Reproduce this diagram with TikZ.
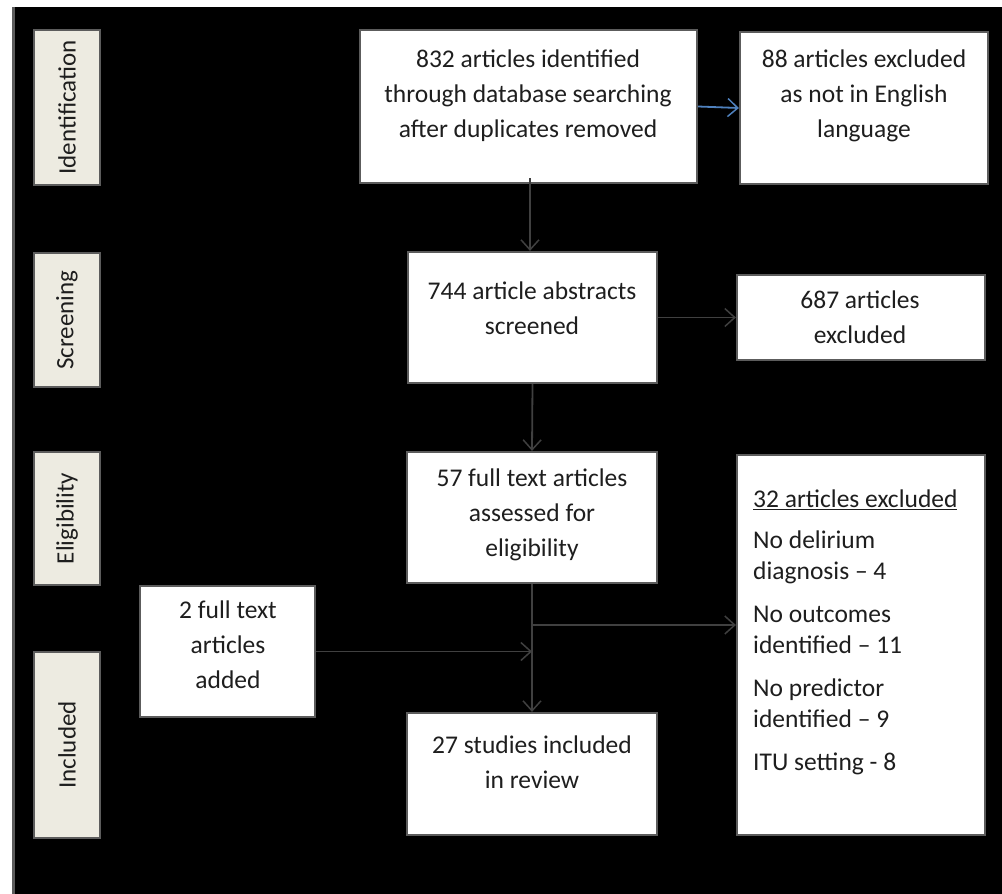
\documentclass[tikz,border=0pt]{standalone}
\usepackage{fontspec}
\setmainfont{Carlito}
\usetikzlibrary{arrows.meta}
\definecolor{beige}{HTML}{EDEBE1}
\definecolor{linegray}{HTML}{404040}
\definecolor{framegray}{HTML}{5C5C5C}
\definecolor{officeblue}{HTML}{4F81BD}
\definecolor{ink}{HTML}{1E1E1E}
\begin{document}
\begin{tikzpicture}[x=1pt,y=-1pt,
  box/.style={draw=framegray, fill=white, line width=2.2pt, inner sep=0pt},
  side/.style={draw=framegray, fill=beige, line width=2pt, inner sep=0pt, minimum width=66pt},
  sidetxt/.style={rotate=90, text=ink, font=\fontsize{25}{28}\selectfont},
  txt/.style={text=ink, align=center, inner sep=0pt, font=\fontsize{25.5}{35}\selectfont},
  conn/.style={draw=linegray, line width=1.8pt, -{Straight Barb[length=10pt,width=18pt,line width=1.5pt]}},
  bline/.style={draw=linegray, line width=1.8pt}]
\useasboundingbox (0,0) rectangle (1002,894);
\fill[white] (0,0) rectangle (1002,894);
\fill[black] (12,7) rectangle (1002,894);
\draw[framegray, line width=3pt] (13.5,7) -- (13.5,894);

% side labels
\node[side, minimum height=155pt] (sid) at (67,107.5) {};
\node[sidetxt] at (sid.center) {Identification};
\node[side, minimum height=134pt] (sscr) at (67,320) {};
\node[sidetxt] at (sscr.center) {Screening};
\node[side, minimum height=133pt] (self) at (67,518.5) {};
\node[sidetxt] at (self.center) {Eligibility};
\node[side, minimum height=186pt] (sinc) at (67,745) {};
\node[sidetxt] at (sinc.center) {Included};

% boxes
\node[box, minimum width=337pt, minimum height=153pt] (a) at (528.5,106.5) {};
\node[box, minimum width=248pt, minimum height=152pt] (b) at (864,108) {};
\node[box, minimum width=249pt, minimum height=131pt] (c) at (532.5,317.5) {};
\node[box, minimum width=248pt, minimum height=85pt] (d) at (861,317.5) {};
\node[box, minimum width=250pt, minimum height=131pt] (e) at (532,517.5) {};
\node[box, minimum width=248pt, minimum height=380pt] (f) at (861,645) {};
\node[box, minimum width=175pt, minimum height=131pt] (g) at (227.5,651.5) {};
\node[box, minimum width=250pt, minimum height=122pt] (h) at (532,774) {};

% texts
\node[txt] at (528,96) {832 articles identified\\through database searching\\after duplicates removed};
\node[txt] at (864,96) {88 articles excluded\\as not in English\\language};
\node[txt] at (532,308) {744 article abstracts\\screened};
\node[txt] at (860,317) {687 articles\\excluded};
\node[txt] at (532,515) {57 full text articles\\assessed for\\eligibility};
\node[txt] at (228,645) {2 full text\\articles\\added};
\node[txt] at (532,762) {27 studies included\\in review};
\node[txt, align=left, anchor=north west, font=\fontsize{25.5}{31}\selectfont] at (753,490)
  {\underline{32 articles excluded}\\[10pt]
   No delirium\\diagnosis – 4\\[12pt]
   No outcomes\\identified – 11\\[12pt]
   No predictor\\identified – 9\\[12pt]
   ITU setting - 8};

% connectors
\draw[conn] ([yshift=6pt]a.south -| 530,0) -- (530,0 |- c.north);
\draw[conn, draw=officeblue] (a.east) -- (b.west);
\draw[conn] (c.east) -- (c.east -| d.west);
\draw[conn] (c.south) -- (e.north);
\draw[conn] (e.south) -- (h.north);
\coordinate (br) at (532,625);
\draw[conn] (br) -- (br -| f.west);
\draw[conn] (g.east) -- (g.east -| h.north);
\end{tikzpicture}
\end{document}
